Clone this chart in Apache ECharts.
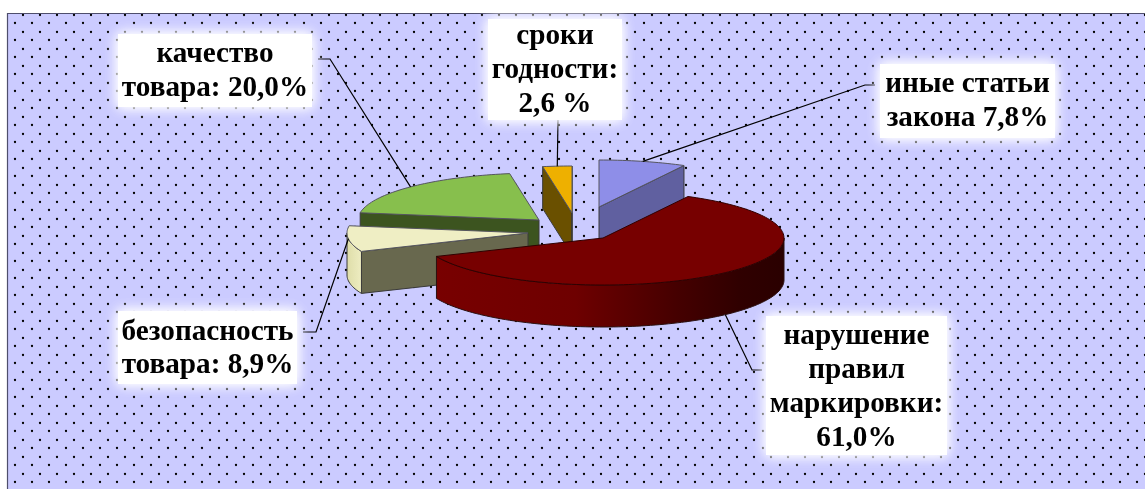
<!DOCTYPE html>
<html>
<head>
<meta charset="utf-8">
<style>html,body{margin:0;padding:0;background:#fff}#c{width:1145px;height:489px}</style>
<script src="https://cdn.jsdelivr.net/npm/echarts@6/dist/echarts.min.js"></script>
</head>
<body>
<div id="c"></div>
<script>
// ---- data ----
const categories = ['нарушение правил маркировки', 'безопасность товара', 'качество товара', 'сроки годности', 'иные статьи закона'];
const values = [61.0, 8.9, 20.0, 2.6, 7.8];
const labelTexts = ['нарушение\nправил\nмаркировки:\n61,0%', 'безопасность\nтовара: 8,9%', 'качество\nтовара: 20,0%', 'сроки\nгодности:\n2,6 %', 'иные статьи\nзакона 7,8%'];

// ---- styles and layout ----
const topColors = ['#770000', '#efeec4', '#87bf4d', '#eeb000', '#8e8ee8'];
const sideColors = ['#770000', '#68684e', '#3c541f', '#6a5000', '#6060a0'];
const rimColors = [
  [[0, '#780000'], [0.4, '#6e0000'], [0.7, '#440000'], [0.87, '#300000'], [1, '#2a0000']],
  [[0, '#dedda8'], [1, '#eeedc2']],
  null, null, null
];
const paintOrder = [4, 3, 1, 2, 0];
const explodeX = [0, -75, -64, -31, -4];
const explodeY = [0, -5, -18, -25, -31];
const labelBoxes = [[766, 316, 181, 139], [118, 311, 179, 73], [118, 34, 194, 73], [488, 19, 134, 101], [880, 64, 175, 74]];
const labelShift = [2, 1.5, 1, 1, 0.5];
const leaderElbows = [
  [[752, 370], [762, 370]],
  [[316, 332], [303, 332]],
  [[330, 59], [318, 59]],
  [[558, 119]],
  [[865, 85], [875, 85]]
];
const leaderOnRimBottom = [true, false, false, false, false];
const centerX = 603, centerY = 238, radiusX = 181, radiusY = 47, depth = 42, startAngle = 28.0;

const total = values.reduce(function (a, b) { return a + b; }, 0);
const spans = [];
(function () {
  let a = startAngle;
  values.forEach(function (v) { const s = v / total * 360; spans.push([a, a + s]); a += s; });
})();

function rad(d) { return d * Math.PI / 180; }
function rimPoint(i, deg, down) {
  return [centerX + explodeX[i] + radiusX * Math.sin(rad(deg)),
          centerY + explodeY[i] - radiusY * Math.cos(rad(deg)) + (down ? depth : 0)];
}
function arc(i, a, b, down) {
  const pts = [];
  const n = Math.max(2, Math.ceil(Math.abs(b - a) / 1.5));
  for (let k = 0; k <= n; k++) pts.push(rimPoint(i, a + (b - a) * k / n, down));
  return pts;
}

function renderItem(params, api) {
  const i = params.dataIndex;
  const c = function (p) { return api.coord(p); };
  const base = paintOrder[i] * 10;
  const s = spans[i][0], e = spans[i][1];
  const apex = [centerX + explodeX[i], centerY + explodeY[i]];
  const apexDown = [apex[0], apex[1] + depth];
  const kids = [];
  const edge = '#3a3a3a';
  function poly(points, fill, stroke, z, lw) {
    kids.push({ type: 'polygon', z2: base + z, shape: { points: points.map(c) },
      style: { fill: fill, stroke: stroke, lineWidth: lw || 1, lineJoin: 'round' } });
  }
  if (Math.sin(rad(s)) < 0) {
    poly([apex, rimPoint(i, s), rimPoint(i, s, true), apexDown], sideColors[i], edge, 1);
  }
  if (Math.sin(rad(e)) > 0) {
    poly([rimPoint(i, e), apex, apexDown, rimPoint(i, e, true)], sideColors[i], edge, 1);
  }
  const r0 = Math.max(s, 90), r1 = Math.min(e, 270);
  if (r1 > r0) {
    const upper = arc(i, r0, r1, false), lower = arc(i, r1, r0, true);
    const fill = rimColors[i]
      ? { type: 'linear', x: 0, y: 0, x2: 1, y2: 0, colorStops: rimColors[i].map(function (st) { return { offset: st[0], color: st[1] }; }) }
      : sideColors[i];
    poly(upper.concat(lower), fill, i === 0 ? '#2a1010' : edge, 2);
  }
  poly([apex].concat(arc(i, s, e, false)), topColors[i], i === 0 ? '#300000' : '#55555f', 3);

  // leader line from the middle of the slice rim to the label
  const mid = (s + e) / 2;
  const anchor = rimPoint(i, mid, leaderOnRimBottom[i]);
  kids.push({ type: 'polyline', z2: 60, shape: { points: [anchor].concat(leaderElbows[i]).map(c) },
    style: { fill: null, stroke: '#000', lineWidth: 1.2 } });

  // label box with a soft white glow
  const b = labelBoxes[i];
  const tl = c([b[0], b[1]]), br = c([b[0] + b[2], b[1] + b[3]]);
  [71, 72].forEach(function (z) {
    kids.push({ type: 'rect', z2: z, shape: { x: tl[0], y: tl[1], width: br[0] - tl[0], height: br[1] - tl[1] },
      style: { fill: '#fff', shadowBlur: 12, shadowColor: '#fff' } });
  });
  kids.push({ type: 'text', z2: 73, style: {
    x: (tl[0] + br[0]) / 2, y: (tl[1] + br[1]) / 2 + labelShift[i], text: labelTexts[i],
    align: 'center', verticalAlign: 'middle', fill: '#000',
    font: 'bold 29.2px "Liberation Serif", serif', lineHeight: 33.7 } });
  return { type: 'group', children: kids };
}

const dotCanvas = document.createElement('canvas');
dotCanvas.width = 17; dotCanvas.height = 17;
(function () {
  const g = dotCanvas.getContext('2d');
  g.fillStyle = '#cbcbff'; g.fillRect(0, 0, 17, 17);
  g.fillStyle = '#000';
  [[6, 15], [15, 6]].forEach(function (p) {
    g.beginPath(); g.arc(p[0], p[1], 1.15, 0, Math.PI * 2); g.fill();
  });
})();

const chart = echarts.init(document.getElementById('c'));
chart.setOption({
  animation: false,
  backgroundColor: '#fff',
  grid: { left: 0, right: 0, top: 0, bottom: 0 },
  xAxis: { type: 'value', min: 0, max: 1145, show: false },
  yAxis: { type: 'value', min: 0, max: 489, inverse: true, show: false },
  graphic: [{
    type: 'rect', z: -1, silent: true,
    shape: { x: 7.5, y: 13.5, width: 1150, height: 490 },
    style: { fill: { image: dotCanvas, repeat: 'repeat' }, stroke: '#4e4e6c', lineWidth: 1.2 }
  }],
  series: [{
    type: 'custom',
    coordinateSystem: 'cartesian2d',
    clip: false,
    renderItem: renderItem,
    data: values.map(function (v, i) { return { name: categories[i], value: [0, 0, v] }; })
  }]
});
</script>
</body>
</html>
